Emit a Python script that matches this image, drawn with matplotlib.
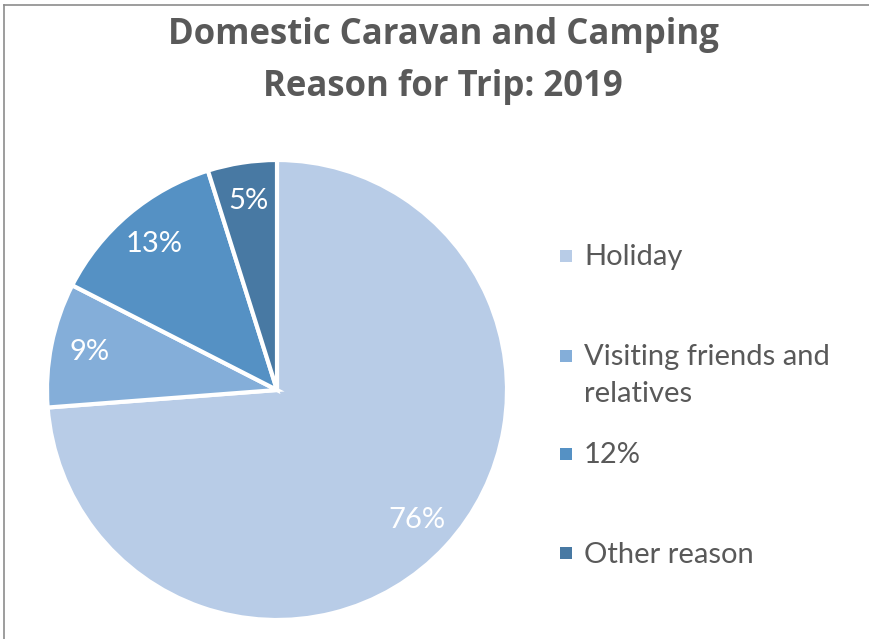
import matplotlib.pyplot as plt
from matplotlib.patches import Rectangle

# Reason for trip shares, 2019
categories = ["Holiday", "Visiting friends and\nrelatives", "12%", "Other reason"]
shares = [76, 9, 13, 5]
colors = ["#b8cce7", "#84aed9", "#5591c4", "#4879a3"]

TEXT_GREY = "#595959"
plt.rcParams["font.family"] = ["Lato", "DejaVu Sans"]

W, H = 869, 639
fig = plt.figure(figsize=(W / 100, H / 100), dpi=100)

# pie centre and radius in pixels
cx, cy, r = 277, 390, 230
lim = 1.05
side = 2 * r * lim
ax = fig.add_axes([(cx - r * lim) / W, (H - cy - r * lim) / H, side / W, side / H])

total = sum(shares)
wedges, _, autotexts = ax.pie(
    shares,
    colors=colors,
    startangle=90,
    counterclock=False,
    autopct=lambda p: f"{p * total / 100:.0f}%",
    pctdistance=0.83,
    wedgeprops=dict(edgecolor="white", linewidth=3),
    textprops=dict(color="white", fontsize=21),
)
ax.set_xlim(-lim, lim)
ax.set_ylim(-lim, lim)
ax.set_aspect("equal")

title_font = dict(ha="center", va="baseline", fontsize=25, fontweight="bold",
                  color=TEXT_GREY, family=["Open Sans", "DejaVu Sans"])
fig.text(443 / W, 1 - 44 / H, "Domestic Caravan and Camping", **title_font)
fig.text(443 / W, 1 - 96 / H, "Reason for Trip: 2019", **title_font)

# legend entries placed by hand to keep the wide spacing
marker_top = [250, 350, 448, 547]
baselines = [265, 365, 463, 563]
for name, col, y0, yb in zip(categories, colors, marker_top, baselines):
    fig.patches.append(Rectangle((560 / W, 1 - (y0 + 12) / H), 12 / W, 12 / H,
                                 transform=fig.transFigure, facecolor=col, edgecolor="none"))
    lines = name.split("\n")
    for i, line in enumerate(lines):
        fig.text(584 / W, 1 - (yb + 37 * i) / H, line, ha="left", va="baseline",
                 fontsize=21, color=TEXT_GREY)

# thin frame along the top and left edges
fig.add_artist(plt.Line2D([4 / W, 4 / W], [0, 1 - 5 / H], transform=fig.transFigure,
                          color="#8c8c8c", linewidth=1.2))
fig.add_artist(plt.Line2D([4 / W, 1], [1 - 5 / H, 1 - 5 / H], transform=fig.transFigure,
                          color="#8c8c8c", linewidth=1.2))

fig.savefig("out.png", dpi=100)
